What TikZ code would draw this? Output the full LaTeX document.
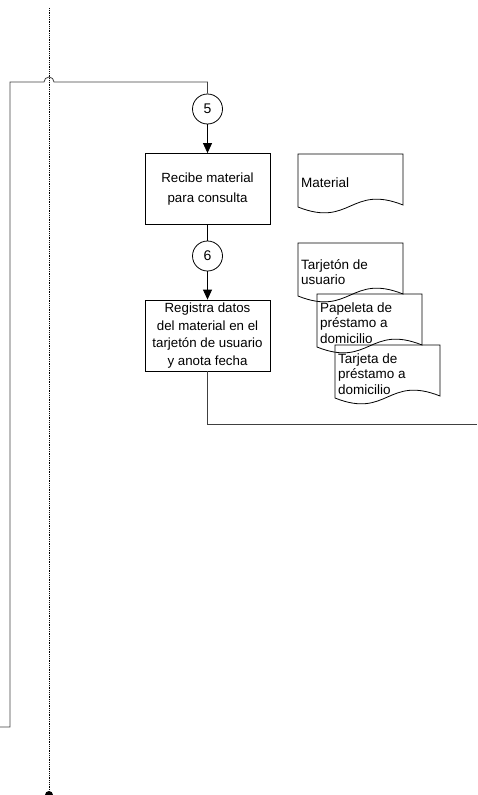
\documentclass[tikz,border=0pt]{standalone}
\usepackage{fontspec}
\setmainfont{Liberation Sans}
\usetikzlibrary{shapes,arrows.meta,calc,fit,positioning}

% documento con borde inferior ondulado
\newcommand{\documento}[4]{%
	\draw[doc] (#2,#3) -- (#2,#3+53)
		.. controls (#2+52.5,#3+74) and (#2+52.5,#3+30) .. (#2+105,#3+51)
		-- (#2+105,#3) -- cycle;
	\node[doctexto] (#1) at (#2+3,#3+29) {#4};
}

\tikzset{
	proceso/.style={draw, line width=0.8pt, minimum width=125pt, minimum height=71pt,
		align=center, inner sep=2pt, font=\fontsize{13.3}{17.5}\selectfont},
	conector/.style={draw, circle, line width=0.8pt, minimum size=30pt, inner sep=0pt,
		font=\fontsize{14}{16}\selectfont},
	doc/.style={line width=0.8pt},
	doctexto/.style={anchor=west, align=left, inner sep=0pt,
		font=\fontsize{13.5}{15.5}\selectfont},
	linea/.style={line width=0.8pt, draw=black!75},
	flecha/.style={line width=0.8pt, -{Triangle[length=10pt,width=9pt]}},
	punteado/.style={line width=0.8pt, densely dotted}
}

\begin{document}
\begin{tikzpicture}[x=1pt, y=-1pt]
	\useasboundingbox (0,0) rectangle (477,795);

	% linea de vida
	\coordinate (vida-a) at (49,8);
	\coordinate (vida-b) at (49,791);
	\draw[punteado] (vida-a) -- (vida-b);
	\fill (49,795) circle (4pt);

	% flujo principal
	\node[conector] (c5) at (207.5,109) {5};
	\node[proceso] (recibe) at (207.5,189) {Recibe material\\[2pt]para consulta};
	\node[conector] (c6) at (207.5,256) {6};
	\node[proceso] (registra) at (207.5,335.5)
		{Registra datos\\del material en el\\tarjet\'on de usuario\\y anota fecha};

	\draw[flecha] (c5) -- (recibe);
	\draw[line width=0.8pt] (recibe) -- (c6);
	\draw[flecha] (c6) -- (registra);

	% conexion que llega desde la izquierda
	\coordinate (arriba) at (207.5,82);
	\coordinate (salto) at (54,82);
	\coordinate (esquina) at (10,82);
	\coordinate (abajo) at (10,727);
	\coordinate (entrada) at (0,727);
	\draw[linea] (c5) -- (arriba) -- (salto) arc (0:180:5pt) -- (esquina)
		-- (abajo) -- (entrada);

	% conexion hacia la derecha
	\coordinate (baja) at (207.5,424);
	\coordinate (salida) at (477,424);
	\draw[linea] (registra) -- (baja) -- (salida);

	% documentos
	\documento{material}{298}{154}{Material}
	\documento{tarjeton}{298}{243}{Tarjet\'on de\\usuario}
	\documento{papeleta}{317}{294}{Papeleta de\\pr\'estamo a\\domicilio}
	\documento{tarjeta}{335}{345}{Tarjeta de\\pr\'estamo a\\domicilio}
\end{tikzpicture}
\end{document}
